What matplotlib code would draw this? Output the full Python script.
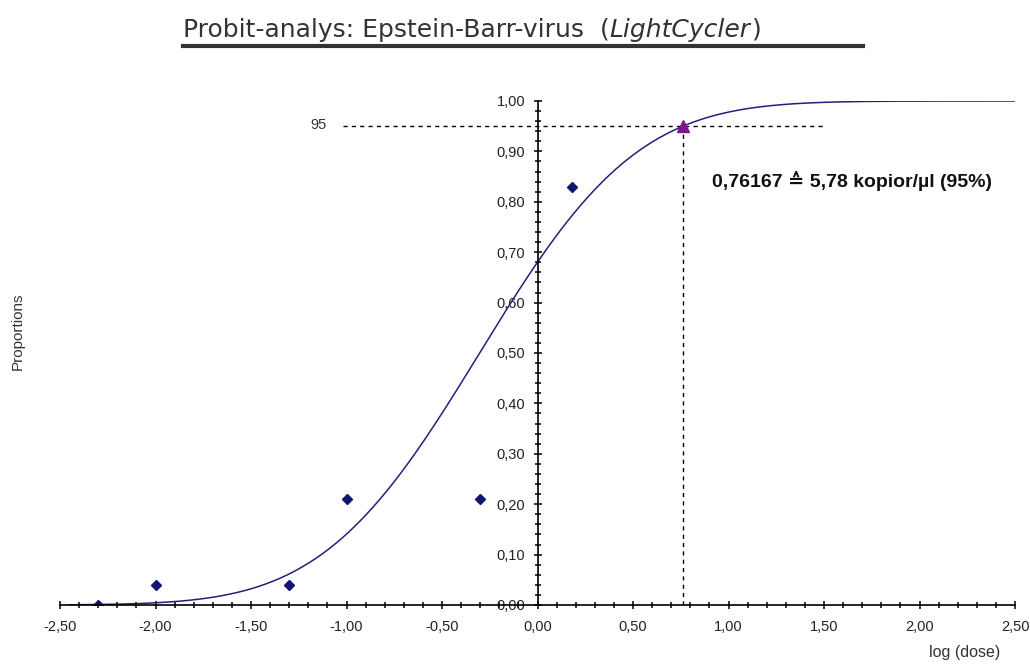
import numpy as np
import matplotlib.pyplot as plt
from matplotlib.ticker import MultipleLocator, FuncFormatter
from math import erf, sqrt

# measured proportions (log dose, hit rate)
log_dose = [-2.30, -2.00, -1.30, -1.00, -0.30, 0.18]
proportions = [0.00, 0.04, 0.04, 0.21, 0.21, 0.83]

# fitted probit parameters
probit_mu = -0.303
probit_sigma = 0.647
ld95 = 0.76167
hit95 = 0.95

fig = plt.figure(figsize=(10.3, 6.68), dpi=100)
ax = fig.add_axes([60 / 1030, 63 / 668, 955 / 1030, 504 / 668])

xs = np.linspace(-2.45, 2.5, 400)
ys = [0.5 * (1 + erf((x - probit_mu) / (probit_sigma * sqrt(2)))) for x in xs]
ax.plot(xs, ys, color='#22207a', lw=1.1, zorder=3)
ax.plot(log_dose, proportions, ls='none', marker='D', ms=5, color='#111470', zorder=4)
ax.plot([ld95], [hit95], ls='none', marker='^', ms=8, color='#7a1a8a', zorder=5)

# 95% guide lines
ax.plot([-1.02, 1.5], [hit95, hit95], color='black', lw=1, ls=(0, (3, 3)), zorder=2)
ax.plot([ld95, ld95], [0, hit95], color='black', lw=1, ls=(0, (3, 3)), zorder=2)

ax.set_xlim(-2.5, 2.5)
ax.set_ylim(0, 1.0)

for s in ['top', 'right']:
    ax.spines[s].set_visible(False)
ax.spines['left'].set_position(('data', 0))
ax.spines['bottom'].set_position(('data', 0))
ax.spines['left'].set_linewidth(1.2)
ax.spines['bottom'].set_linewidth(1.2)
ax.spines['left'].set_zorder(6)
ax.spines['bottom'].set_zorder(6)

ax.xaxis.set_major_locator(MultipleLocator(0.5))
ax.xaxis.set_minor_locator(MultipleLocator(0.1))
ax.yaxis.set_major_locator(MultipleLocator(0.1))
ax.yaxis.set_minor_locator(MultipleLocator(0.02))
fmt = FuncFormatter(lambda v, p: ('%.2f' % v).replace('.', ',').replace('-0,00', '0,00'))
ax.xaxis.set_major_formatter(fmt)
ax.yaxis.set_major_formatter(fmt)
ax.tick_params(which='major', direction='inout', length=6, width=1.1, color='black')
ax.tick_params(which='minor', direction='inout', length=4.5, width=1.1, color='black')
ax.tick_params(axis='x', which='major', pad=8)
ax.tick_params(axis='y', which='major', pad=6)
for lab in ax.get_xticklabels() + ax.get_yticklabels():
    lab.set_fontfamily('Liberation Sans')
    lab.set_fontsize(10.5)
    lab.set_color('#222222')

ax.patch.set_alpha(0)

fig.text(18 / 1030, 1 - 331 / 668, 'Proportions', rotation=90, ha='center', va='center',
         fontsize=11, family='Liberation Sans', color='#333333')
fig.text(965 / 1030, 1 - 653 / 668, 'log (dose)', ha='center', va='center',
         fontsize=11.5, family='Liberation Sans', color='#333333')

ax.text(0.913, 0.841, '0,76167 \u2259 5,78 kopior/\u00b5l (95%)', ha='left', va='center',
        fontsize=14, fontweight='bold', family=['Liberation Sans', 'DejaVu Sans'], color='#111111')

ax.text(-1.19, hit95 + 0.003, '95', ha='left', va='center', fontsize=10.5,
        family='Liberation Sans', color='#333333')

# title with italic instrument name and underline
renderer = fig.canvas.get_renderer()
t1 = fig.text(183 / 1030, 1 - 37 / 668, 'Probit-analys: Epstein-Barr-virus  (', ha='left',
              va='baseline', fontsize=18, family='DejaVu Sans', color='#333333')
bb = t1.get_window_extent(renderer)
t2 = fig.text(bb.x1 / 1030, 1 - 37 / 668, 'LightCycler', ha='left', va='baseline',
              fontsize=18, family='DejaVu Sans', style='italic', color='#333333')
bb2 = t2.get_window_extent(renderer)
fig.text(bb2.x1 / 1030 + 0.001, 1 - 37 / 668, ')', ha='left', va='baseline',
         fontsize=18, family='DejaVu Sans', color='#333333')
fig.add_artist(plt.Line2D([183 / 1030, 863 / 1030], [1 - 45.5 / 668, 1 - 45.5 / 668],
                          color='#333333', lw=3))

fig.savefig('out.png', dpi=100)
